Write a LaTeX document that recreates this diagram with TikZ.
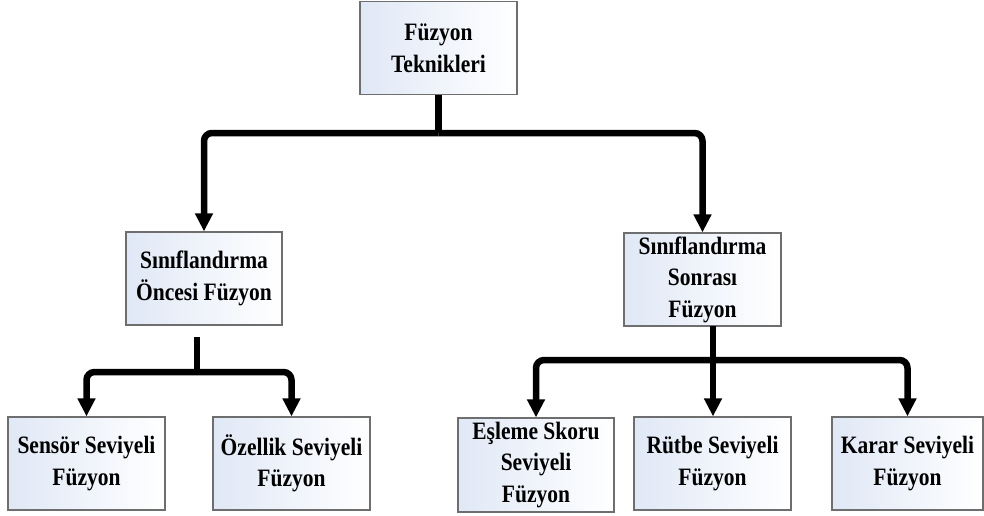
\documentclass[tikz,border=0pt]{standalone}
\usepackage{fontspec}
\setmainfont{Liberation Serif}[FakeStretch=0.86]
\usetikzlibrary{arrows.meta}

\definecolor{boxblue}{RGB}{224,232,246}
\definecolor{boxline}{RGB}{110,110,110}

\tikzset{
  box/.style={draw=boxline, line width=1.2pt, left color=boxblue, right color=white,
    minimum width=157pt, minimum height=93pt, inner sep=0pt, align=center,
    font=\fontsize{25}{31.5}\selectfont\bfseries},
  link/.style={line width=6.5pt, rounded corners=8pt},
  feed/.style={link, -{Triangle[width=17pt,length=18pt]}}
}

\begin{document}
\begin{tikzpicture}[x=1pt, y=-1pt]
  \useasboundingbox (0,0) rectangle (984,515);

  % level 0
  \node[box] (root) at (438.5,48) {Füzyon\\Teknikleri};

  % level 1
  \node[box, minimum width=156pt] (pre) at (204,278.5) {Sınıflandırma\\Öncesi Füzyon};
  \node[box] (post) at (702.5,279.5) {Sınıflandırma\\Sonrası\\Füzyon};

  % level 2
  \node[box] (sensor) at (86.5,463.5) {Sensör Seviyeli\\Füzyon};
  \node[box] (feature) at (291.5,463.5) {Özellik Seviyeli\\Füzyon};
  \node[box, minimum width=156pt, minimum height=94pt] (score) at (536,465) {Eşleme Skoru\\Seviyeli\\Füzyon};
  \node[box] (rank) at (712.5,463.5) {Rütbe Seviyeli\\Füzyon};
  \node[box, minimum width=151pt] (decision) at (907.5,463.5) {Karar Seviyeli\\Füzyon};

  % junction points
  \coordinate (j0) at (root.south |- 0,133);
  \coordinate (p0) at (197,337);
  \coordinate (j1) at (197,372);
  \coordinate (q0) at (713,326);
  \coordinate (j2) at (713,360);

  % root to level 1
  \draw[link] (root.south) -- (j0);
  \draw[feed] (j0) -| (pre.north);
  \draw[feed] (j0) -| (post.north);

  % pre-classification branch
  \draw[link] (p0) -- (j1);
  \draw[feed] (j1) -| (sensor.north);
  \draw[feed] (j1) -| (feature.north);

  % post-classification branch
  \draw[link] (q0) -- (j2);
  \draw[feed] (j2) -| (score.north);
  \draw[feed] (j2) -- (j2 |- rank.north);
  \draw[feed] (j2) -| (decision.north);
\end{tikzpicture}
\end{document}
